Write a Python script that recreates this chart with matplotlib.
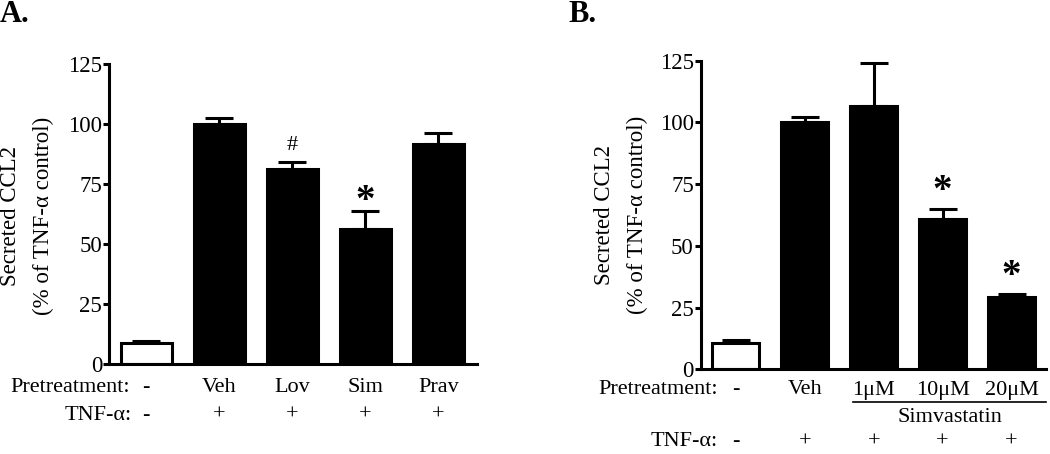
import numpy as np
import matplotlib
matplotlib.use('Agg')
import matplotlib.pyplot as plt
import matplotlib.transforms as mtransforms

plt.rcParams['font.family'] = ['Liberation Serif', 'DejaVu Serif']

# Panel A data
a_pre = ['-', 'Veh', 'Lov', 'Sim', 'Prav']
a_tnf = ['-', '+', '+', '+', '+']
a_vals = [8.6, 100.0, 81.2, 56.4, 91.7]
a_err = [1.0, 2.5, 2.8, 7.2, 4.7]
a_marks = ['', '', '#', '*', '']

# Panel B data
b_pre = ['-', 'Veh', '1\u03bcM', '10\u03bcM', '20\u03bcM']
b_tnf = ['-', '+', '+', '+', '+']
b_vals = [10.5, 100.0, 106.7, 60.9, 29.4]
b_err = [1.4, 2.0, 17.4, 4.0, 1.3]
b_marks = ['', '', '', '*', '*']

W, H = 1050, 454
fig = plt.figure(figsize=(W / 100, H / 100), dpi=100)

FS = 16


def fy(py):
    return 1 - py / H


def draw_panel(ax, vals, err, marks, width, star_gap):
    x = np.arange(len(vals))
    colors = ['white'] + ['black'] * (len(vals) - 1)
    ax.bar(x, vals, width=width, color=colors, edgecolor='black', linewidth=2.2, zorder=2)
    ax.errorbar(x, vals, yerr=[np.zeros(len(err)), err], fmt='none', ecolor='black',
                elinewidth=2.2, capsize=10, capthick=2.2, zorder=1)
    for i, m in enumerate(marks):
        if m == '*':
            ax.text(i, vals[i] + err[i] + star_gap, m, ha='center', va='center',
                    fontsize=28, fontweight='bold')
        elif m:
            ax.text(i, vals[i] + err[i] + 7, m, ha='center', va='center',
                    fontsize=FS)
    ax.set_ylim(0, 125)
    ax.set_yticks([0, 25, 50, 75, 100, 125])
    ax.set_xticks([])
    for s in ['top', 'right']:
        ax.spines[s].set_visible(False)
    for s in ['left', 'bottom']:
        ax.spines[s].set_linewidth(2.2)
    ax.tick_params(axis='y', direction='out', length=4, width=2.2, labelsize=FS + 0.5, pad=1)


# ---- Panel A ----
axA = fig.add_axes([109 / W, fy(364), (477 - 109) / W, 300 / H])
draw_panel(axA, a_vals, a_err, a_marks, 0.7, 4)
axA.set_xlim(-0.51, 4.53)
tA = mtransforms.blended_transform_factory(axA.transData, fig.transFigure)
for i, lab in enumerate(a_pre):
    axA.text(i, fy(387), lab, transform=tA, ha='center', va='center', fontsize=FS)
for i, lab in enumerate(a_tnf):
    axA.text(i, fy(415), lab, transform=tA, ha='center', va='center', fontsize=FS)
fig.text(130 / W, fy(387), 'Pretreatment:', ha='right', va='center', fontsize=FS)
fig.text(132 / W, fy(415), 'TNF-\u03b1:', ha='right', va='center', fontsize=FS)
fig.text(11 / W, fy(216), 'Secreted CCL2', rotation=90, ha='center', va='center', fontsize=FS + 0.5)
fig.text(43 / W, fy(216), '(% of TNF-\u03b1 control)', rotation=90, ha='center', va='center', fontsize=FS + 0.5)
fig.text(0 / W, fy(14), 'A.', ha='left', va='center', fontsize=22, fontweight='bold')

# ---- Panel B ----
axB = fig.add_axes([700.7 / W, fy(369.3), (1046 - 700.7) / W, (369.3 - 60.7) / H])
draw_panel(axB, b_vals, b_err, b_marks, 0.68, 7)
axB.set_xlim(-0.51, 4.5)
tB = mtransforms.blended_transform_factory(axB.transData, fig.transFigure)
for i, lab in enumerate(b_pre):
    axB.text(i, fy(390), lab, transform=tB, ha='center', va='center', fontsize=FS)
for i, lab in enumerate(b_tnf):
    axB.text(i, fy(442), lab, transform=tB, ha='center', va='center', fontsize=FS)
fig.text(718 / W, fy(390), 'Pretreatment:', ha='right', va='center', fontsize=FS)
fig.text(718 / W, fy(442), 'TNF-\u03b1:', ha='right', va='center', fontsize=FS)
axB.plot([1.7, 4.5], [fy(402), fy(402)], transform=tB, color='black', lw=1.2, clip_on=False)
axB.text(3.1, fy(418), 'Simvastatin', transform=tB, ha='center', va='center', fontsize=FS)
fig.text(605 / W, fy(215), 'Secreted CCL2', rotation=90, ha='center', va='center', fontsize=FS + 0.5)
fig.text(637 / W, fy(215), '(% of TNF-\u03b1 control)', rotation=90, ha='center', va='center', fontsize=FS + 0.5)
fig.text(568 / W, fy(14), 'B.', ha='left', va='center', fontsize=22, fontweight='bold')

fig.savefig('out.png', dpi=100)
